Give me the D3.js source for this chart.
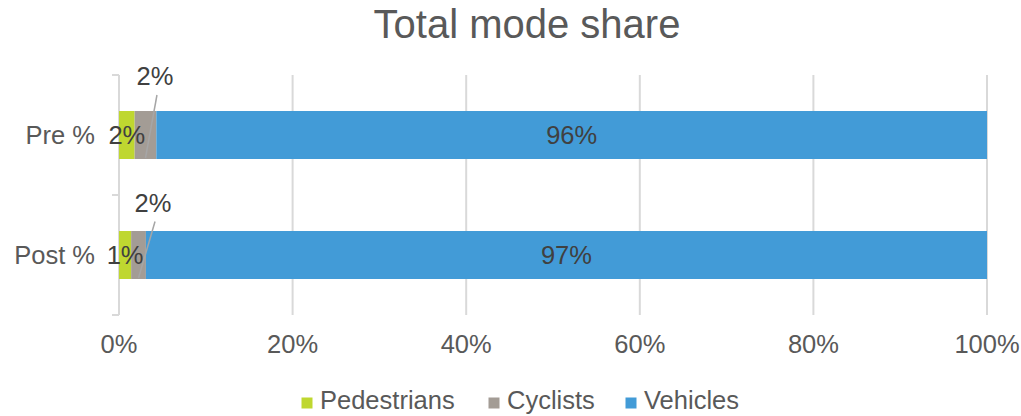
<!DOCTYPE html>
<html><head><meta charset="utf-8">
<script src="https://cdn.jsdelivr.net/npm/d3@7"></script>
<style>body{margin:0;background:#fff}svg{display:block;font-family:"Liberation Sans",Arial,sans-serif}</style>
</head><body>
<script>
const categories = ["Pre %", "Post %"];
const seriesNames = ["Pedestrians", "Cyclists", "Vehicles"];
const pedestrians = [1.8, 1.4];
const cyclists = [2.5, 1.7];
const vehicles = [95.7, 96.9];
const pedLabels = ["2%", "1%"];
const cycLabels = ["2%", "2%"];
const vehLabels = ["96%", "97%"];
const xTicks = [0, 20, 40, 60, 80, 100];
const xTickLabels = ["0%", "20%", "40%", "60%", "80%", "100%"];

const colors = ["#BFD730", "#A39C95", "#429BD7"];
const W = 1021, H = 416;
const svg = d3.select("body").append("svg").attr("width", W).attr("height", H);

const x = d3.scaleLinear().domain([0, 100]).range([119, 987]);
const y = d3.scaleBand().domain(categories).range([75, 315]).paddingInner(0.6).paddingOuter(0.3);

svg.append("text").attr("x", 527).attr("y", 38).attr("text-anchor", "middle")
  .attr("font-size", 40).attr("fill", "#595959").text("Total mode share");

// gridlines
svg.append("g").selectAll("line").data(xTicks.slice(1)).join("line")
  .attr("x1", d => x(d)).attr("x2", d => x(d)).attr("y1", 75).attr("y2", 315)
  .attr("stroke", "#d9d9d9").attr("stroke-width", 2);

// category axis
const step = y.step();
const boundaries = [75, 75 + step, 75 + 2 * step];
const ax = svg.append("g");
ax.append("line").attr("x1", x(0)).attr("x2", x(0)).attr("y1", 75).attr("y2", 315)
  .attr("stroke", "#d9d9d9").attr("stroke-width", 2);
ax.selectAll("line.tk").data(boundaries).join("line").attr("class", "tk")
  .attr("x1", x(0) - 7).attr("x2", x(0)).attr("y1", d => d).attr("y2", d => d)
  .attr("stroke", "#d9d9d9").attr("stroke-width", 2);
ax.selectAll("text").data(categories).join("text")
  .attr("x", 95).attr("y", d => y(d) + y.bandwidth() / 2 + 9)
  .attr("text-anchor", "end").attr("font-size", 25.5).attr("fill", "#595959").text(d => d);

// x tick labels
svg.append("g").selectAll("text").data(xTicks).join("text")
  .attr("x", d => x(d)).attr("y", 353).attr("text-anchor", "middle")
  .attr("font-size", 25.5).attr("fill", "#595959").text((d, i) => xTickLabels[i]);

// stacked bars
const rows = categories.map((c, i) => ({ cat: c, Pedestrians: pedestrians[i], Cyclists: cyclists[i], Vehicles: vehicles[i] }));
const stack = d3.stack().keys(seriesNames)(rows);
stack.forEach((s, si) => {
  svg.append("g").selectAll("rect").data(s).join("rect")
    .attr("x", d => x(d[0])).attr("width", d => x(d[1]) - x(d[0]))
    .attr("y", d => y(d.data.cat)).attr("height", y.bandwidth())
    .attr("fill", colors[si]);
});

const bw = y.bandwidth();
// pedestrians labels
stack[0].forEach((d, i) => {
  svg.append("text").attr("x", (x(d[0]) + x(d[1])) / 2).attr("y", y(d.data.cat) + bw / 2 + 9)
    .attr("text-anchor", "middle").attr("font-size", 25.5).attr("fill", "#404040").text(pedLabels[i]);
});
// vehicles labels
stack[2].forEach((d, i) => {
  svg.append("text").attr("x", (x(d[0]) + x(d[1])) / 2).attr("y", y(d.data.cat) + bw / 2 + 9)
    .attr("text-anchor", "middle").attr("font-size", 25.5).attr("fill", "#404040").text(vehLabels[i]);
});
// cyclists labels with leader lines
const calloutDx = [9.5, 14.5];
const calloutDy = [26, 19.5];
stack[1].forEach((d, i) => {
  const cx = (x(d[0]) + x(d[1])) / 2;
  const top = y(d.data.cat);
  const lx = cx + calloutDx[i], ly = top - calloutDy[i];
  svg.append("line").attr("x1", lx + 2).attr("y1", ly + 10).attr("x2", cx).attr("y2", top + bw - 1)
    .attr("stroke", "#a6a6a6").attr("stroke-width", 1.5);
  svg.append("text").attr("x", lx).attr("y", ly).attr("text-anchor", "middle")
    .attr("font-size", 25.5).attr("fill", "#404040").text(cycLabels[i]);
});

// legend
const legendX = [301.5, 488.5, 625.5];
const lg = svg.append("g");
seriesNames.forEach((n, i) => {
  lg.append("rect").attr("x", legendX[i]).attr("y", 397.5).attr("width", 11).attr("height", 11).attr("fill", colors[i]);
  lg.append("text").attr("x", legendX[i] + 18.5).attr("y", 409).attr("font-size", 25.5)
    .attr("fill", "#595959").text(n);
});
</script>
</body></html>
